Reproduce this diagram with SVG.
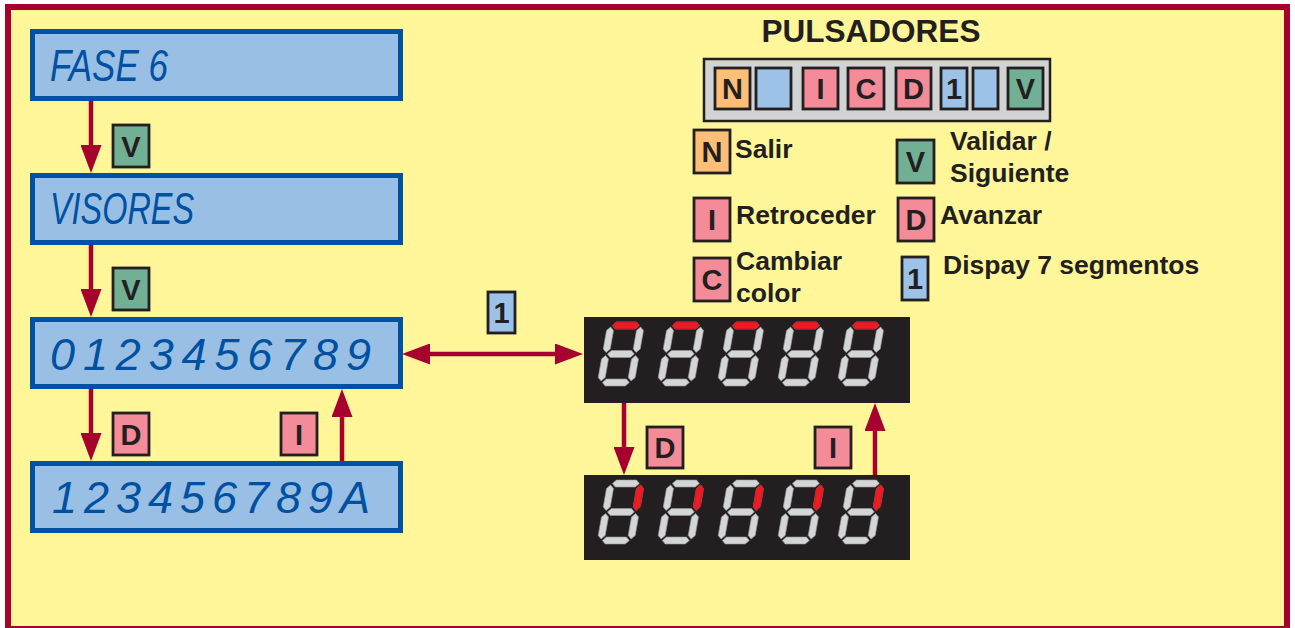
<svg xmlns="http://www.w3.org/2000/svg" xmlns:xlink="http://www.w3.org/1999/xlink" width="1295" height="628" viewBox="0 0 1295 628">
<style>
.lcd{fill:#99bfe5;stroke:#0051a2;stroke-width:5}
.lcdt{font-family:"Liberation Sans",Arial,sans-serif;font-style:italic;font-weight:normal;fill:#0051a2}
.bd{stroke:#231f20;stroke-width:2.8}
.pk{fill:#f38b99}.gr{fill:#72b096}.bl{fill:#9cc2e8}.or{fill:#fdbf78}
.bt{font-family:"Liberation Sans",Arial,sans-serif;font-weight:bold;font-size:29px;fill:#231f20;text-anchor:middle}
.lg{font-family:"Liberation Sans",Arial,sans-serif;font-weight:bold;font-size:26.5px;fill:#231f20}
.arr{stroke:#a6002f;stroke-width:4.5;fill:none}
.disp{fill:#231f20}
.sg{fill:#d4d5d7;stroke:#97999b;stroke-width:0.6}
.sr{fill:#ed1c24;stroke:#b01018;stroke-width:0.6}
</style>
<defs>
<marker id="ah" markerUnits="userSpaceOnUse" markerWidth="28" markerHeight="21" refX="8" refY="10.5" orient="auto-start-reverse" viewBox="0 0 28 21">
<path d="M0,0 L28,10.5 L0,21 Z" fill="#a6002f"/>
</marker>
<polygon id="sa" points="5,3.5 8.5,0 28.5,0 32,3.5 28.5,7 8.5,7"/>
<polygon id="sb" points="33.5,5 37,8.5 37,27 33.5,30.5 30,27 30,8.5"/>
<polygon id="sc" points="33.5,33.5 37,37 37,55.5 33.5,59 30,55.5 30,37"/>
<polygon id="sd" points="5,60.5 8.5,57 28.5,57 32,60.5 28.5,64 8.5,64"/>
<polygon id="se" points="3.5,33.5 7,37 7,55.5 3.5,59 0,55.5 0,37"/>
<polygon id="sf" points="3.5,5 7,8.5 7,27 3.5,30.5 0,27 0,8.5"/>
<polygon id="sg" points="5,32 8.5,28.5 28.5,28.5 32,32 28.5,35.5 8.5,35.5"/>
<g id="d8" class="sg">
<use href="#sa"/><use href="#sb"/><use href="#sc"/><use href="#sd"/><use href="#se"/><use href="#sf"/><use href="#sg"/>
</g>
</defs>

<rect x="8" y="7" width="1279" height="622" fill="#fff699" stroke="#a6002f" stroke-width="6"/>

<g id="connectors">
<line class="arr" x1="91" y1="101" x2="91" y2="153" marker-end="url(#ah)"/>
<line class="arr" x1="91" y1="245" x2="91" y2="297" marker-end="url(#ah)"/>
<line class="arr" x1="91" y1="389" x2="91" y2="441" marker-end="url(#ah)"/>
<line class="arr" x1="342" y1="461" x2="342" y2="409" marker-end="url(#ah)"/>
<line class="arr" x1="422" y1="354" x2="563" y2="354" marker-start="url(#ah)" marker-end="url(#ah)"/>
<line class="arr" x1="624" y1="403" x2="624" y2="455" marker-end="url(#ah)"/>
<line class="arr" x1="875" y1="475" x2="875" y2="423" marker-end="url(#ah)"/>
</g>

<g id="lcd-fase">
<rect class="lcd" x="32.5" y="31.5" width="368" height="67"/>
<text class="lcdt" x="50" y="81" font-size="45" textLength="118" lengthAdjust="spacingAndGlyphs">FASE 6</text>
</g>
<g id="lcd-visores">
<rect class="lcd" x="32.5" y="175.5" width="368" height="67"/>
<text class="lcdt" x="50" y="224" font-size="44" textLength="144" lengthAdjust="spacingAndGlyphs">VISORES</text>
</g>
<g id="lcd-digits">
<rect class="lcd" x="32.5" y="319.5" width="368" height="67"/>
<text class="lcdt" x="50" y="370" font-size="45" textLength="321" lengthAdjust="spacing">0123456789</text>
</g>
<g id="lcd-digits2">
<rect class="lcd" x="32.5" y="463.5" width="368" height="67"/>
<text class="lcdt" x="52" y="513" font-size="45" textLength="318" lengthAdjust="spacing">123456789A</text>
</g>

<g id="badge-v1"><rect class="bd gr" x="113" y="125" width="36" height="42"/><text class="bt" x="131" y="156.5">V</text></g>
<g id="badge-v2"><rect class="bd gr" x="113" y="268" width="36" height="42"/><text class="bt" x="131" y="299.5">V</text></g>
<g id="badge-d1"><rect class="bd pk" x="113" y="413" width="36" height="42"/><text class="bt" x="131" y="444.5">D</text></g>
<g id="badge-i1"><rect class="bd pk" x="281" y="413" width="36" height="42"/><text class="bt" x="299" y="444.5">I</text></g>
<g id="badge-1"><rect class="bd bl" x="488" y="292" width="27" height="41"/><text class="bt" x="501.5" y="323">1</text></g>
<g id="badge-d2"><rect class="bd pk" x="647" y="427" width="36" height="41"/><text class="bt" x="665" y="458">D</text></g>
<g id="badge-i2"><rect class="bd pk" x="815" y="427" width="36" height="41"/><text class="bt" x="833" y="458">I</text></g>

<g id="display-top">
<rect class="disp" x="584" y="317" width="326" height="86"/>
<g transform="translate(608,322) skewX(-10)"><use href="#d8"/><use href="#sa" class="sr"/></g>
<g transform="translate(668,322) skewX(-10)"><use href="#d8"/><use href="#sa" class="sr"/></g>
<g transform="translate(728,322) skewX(-10)"><use href="#d8"/><use href="#sa" class="sr"/></g>
<g transform="translate(788,322) skewX(-10)"><use href="#d8"/><use href="#sa" class="sr"/></g>
<g transform="translate(848,322) skewX(-10)"><use href="#d8"/><use href="#sa" class="sr"/></g>
</g>
<g id="display-bottom">
<rect class="disp" x="584" y="475" width="326" height="85"/>
<g transform="translate(608,480) skewX(-10)"><use href="#d8"/><use href="#sb" class="sr"/></g>
<g transform="translate(668,480) skewX(-10)"><use href="#d8"/><use href="#sb" class="sr"/></g>
<g transform="translate(728,480) skewX(-10)"><use href="#d8"/><use href="#sb" class="sr"/></g>
<g transform="translate(788,480) skewX(-10)"><use href="#d8"/><use href="#sb" class="sr"/></g>
<g transform="translate(848,480) skewX(-10)"><use href="#d8"/><use href="#sb" class="sr"/></g>
</g>

<g id="pulsadores">
<text x="871" y="42" font-family="Liberation Sans, Arial, sans-serif" font-weight="bold" font-size="31.5" fill="#231f20" text-anchor="middle">PULSADORES</text>
<rect x="704" y="59" width="346" height="62" fill="#d1d3d4" stroke="#231f20" stroke-width="2.5"/>
<rect class="bd or" x="715" y="68" width="35" height="41"/><text class="bt" x="732.5" y="99">N</text>
<rect class="bd bl" x="756" y="68" width="35" height="41"/>
<rect class="bd pk" x="803" y="68" width="35" height="41"/><text class="bt" x="820.5" y="99">I</text>
<rect class="bd pk" x="848" y="68" width="36" height="41"/><text class="bt" x="866" y="99">C</text>
<rect class="bd pk" x="896" y="68" width="35" height="41"/><text class="bt" x="913.5" y="99">D</text>
<rect class="bd bl" x="941" y="68" width="26" height="41"/><text class="bt" x="954" y="99">1</text>
<rect class="bd bl" x="973" y="68" width="25" height="41"/>
<rect class="bd gr" x="1008" y="68" width="35" height="41"/><text class="bt" x="1025.5" y="99">V</text>
</g>

<g id="legend-n"><rect class="bd or" x="694" y="130" width="36" height="43"/><text class="bt" x="712" y="162">N</text><text class="lg" x="735" y="158">Salir</text></g>
<g id="legend-v"><rect class="bd gr" x="897" y="140" width="37" height="43"/><text class="bt" x="915.5" y="172">V</text><text class="lg" x="950" y="150">Validar /</text><text class="lg" x="950" y="182">Siguiente</text></g>
<g id="legend-i"><rect class="bd pk" x="694" y="198" width="36" height="43"/><text class="bt" x="712" y="230">I</text><text class="lg" x="736" y="224">Retroceder</text></g>
<g id="legend-d"><rect class="bd pk" x="898" y="198" width="36" height="43"/><text class="bt" x="916" y="230">D</text><text class="lg" x="940" y="224">Avanzar</text></g>
<g id="legend-c"><rect class="bd pk" x="694" y="258" width="36" height="43"/><text class="bt" x="712" y="290">C</text><text class="lg" x="736" y="270">Cambiar</text><text class="lg" x="736" y="302">color</text></g>
<g id="legend-1"><rect class="bd bl" x="902" y="257" width="26" height="43"/><text class="bt" x="915" y="289">1</text><text class="lg" x="943" y="274">Dispay 7 segmentos</text></g>
</svg>
